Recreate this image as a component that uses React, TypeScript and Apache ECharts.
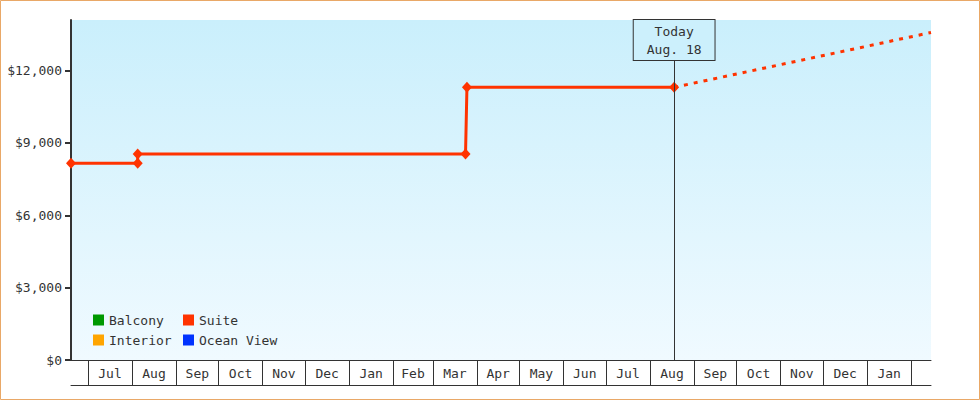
import React, { useEffect, useRef } from 'react';
import * as echarts from 'echarts';

const FONT = '"DejaVu Sans Mono", "Liberation Mono", monospace';
const TEXT = '#333333';

// x axis: month boxes (labels) and month boundaries (separators)
const monthLabels = ['Jul', 'Aug', 'Sep', 'Oct', 'Nov', 'Dec', 'Jan', 'Feb', 'Mar', 'Apr', 'May', 'Jun', 'Jul', 'Aug', 'Sep', 'Oct', 'Nov', 'Dec', 'Jan'];
const monthStarts = [
  '2017-07-01', '2017-08-01', '2017-09-01', '2017-10-01', '2017-11-01', '2017-12-01',
  '2018-01-01', '2018-02-01', '2018-03-01', '2018-04-01', '2018-05-01', '2018-06-01',
  '2018-07-01', '2018-08-01', '2018-09-01', '2018-10-01', '2018-11-01', '2018-12-01',
  '2019-01-01', '2019-02-01',
];
const axisStart = '2017-06-19';
const axisEnd = '2019-02-15';

// y axis
const yTickValues = [0, 3000, 6000, 9000, 12000];
const yMax = 14100;

// Suite price history (step changes)
const suiteDates = ['2017-06-19', '2017-08-05', '2017-08-05', '2018-03-24', '2018-03-25', '2018-08-18'];
const suitePrices = [8160, 8160, 8540, 8540, 11310, 11310];

// Suite projection (dashed)
const projectionDates = ['2018-08-18', '2019-02-15'];
const projectionPrices = [11310, 13580];

const todayDate = '2018-08-18';
const todayLabel = ['Today', 'Aug. 18'];

// legend
const seriesNames = ['Balcony', 'Suite', 'Interior', 'Ocean View'];
const seriesColors = ['#009900', '#ff3300', '#ffa500', '#0033ff'];
const legendColumnA = ['Balcony', 'Interior'];
const legendColumnB = ['Suite', 'Ocean View'];

const toTime = (s: string) => {
  const [y, m, d] = s.split('-').map(Number);
  return new Date(y, m - 1, d).getTime();
};

const colorOf = (name: string) => seriesColors[seriesNames.indexOf(name)];

export default function App() {
  const ref = useRef<HTMLDivElement>(null);

  useEffect(() => {
    document.body.style.margin = '0';
    const el = ref.current!;
    const chart = echarts.init(el, null, { renderer: 'svg' });

    const startTimes = monthStarts.map(toTime);
    const midTimes = monthLabels.map((_, i) => (startTimes[i] + startTimes[i + 1]) / 2);
    const labelFor = (v: number) => {
      for (let i = 0; i < monthLabels.length; i++) {
        if (v >= startTimes[i] && v < startTimes[i + 1]) return monthLabels[i];
      }
      return '';
    };

    const textStyle = { fontFamily: FONT, fontSize: 13, color: TEXT };

    const legendBase = {
      orient: 'vertical',
      top: 312,
      itemWidth: 11,
      itemHeight: 11,
      itemGap: 4,
      padding: 0,
      icon: 'rect',
      selectedMode: false,
      textStyle: { ...textStyle, lineHeight: 16 },
    };

    const emptySeries = ['Balcony', 'Interior', 'Ocean View'].map((name) => ({
      name,
      type: 'line',
      data: [],
      itemStyle: { color: colorOf(name) },
      lineStyle: { color: colorOf(name) },
    }));

    const xMin = toTime(axisStart);
    const xMax = toTime(axisEnd);

    const option: any = {
      animation: false,
      backgroundColor: '#ffffff',
      textStyle: { fontFamily: FONT },
      grid: {
        left: 71,
        right: 49,
        top: 20,
        bottom: 40,
        show: true,
        borderWidth: 0,
        backgroundColor: new echarts.graphic.LinearGradient(0, 0, 0, 1, [
          { offset: 0, color: '#caeffc' },
          { offset: 1, color: '#f0faff' },
        ]),
      },
      graphic: [
        {
          type: 'rect',
          shape: { x: 0.5, y: 0.5, width: 979, height: 399 },
          style: { fill: 'none', stroke: '#e9a867', lineWidth: 1 },
          silent: true,
          z: 100,
        },
      ],
      legend: [
        { ...legendBase, left: 93, data: legendColumnA },
        { ...legendBase, left: 183, data: legendColumnB },
      ],
      xAxis: [
        {
          type: 'value',
          min: xMin,
          max: xMax,
          axisLine: { show: true, lineStyle: { color: TEXT, width: 1 } },
          axisTick: {
            show: true,
            customValues: startTimes,
            length: 25,
            lineStyle: { color: TEXT, width: 1 },
          },
          axisLabel: {
            customValues: midTimes,
            formatter: (v: number) => labelFor(v),
            margin: 7,
            ...textStyle,
          },
          splitLine: { show: false },
        },
        {
          type: 'value',
          position: 'bottom',
          offset: 25,
          min: xMin,
          max: xMax,
          axisLine: { show: true, lineStyle: { color: TEXT, width: 1 } },
          axisTick: { show: false },
          axisLabel: { show: false },
          splitLine: { show: false },
        },
      ],
      yAxis: {
        type: 'value',
        min: 0,
        max: yMax,
        interval: 3000,
        axisLine: { show: true, lineStyle: { color: TEXT, width: 2 } },
        axisTick: {
          show: true,
          customValues: yTickValues,
          length: 6,
          lineStyle: { color: TEXT, width: 2 },
        },
        axisLabel: {
          customValues: yTickValues,
          formatter: (v: number) => '$' + v.toLocaleString('en-US'),
          margin: 9,
          ...textStyle,
        },
        splitLine: { show: false },
      },
      series: [
        emptySeries[0],
        {
          name: 'Suite',
          type: 'line',
          z: 4,
          data: suiteDates.map((d, i) => [toTime(d), suitePrices[i]]),
          symbol: 'diamond',
          symbolSize: [10, 11],
          showAllSymbol: true,
          itemStyle: { color: colorOf('Suite') },
          lineStyle: { color: colorOf('Suite'), width: 3 },
          emphasis: { disabled: true },
        },
        {
          name: 'Suite',
          type: 'line',
          z: 3,
          data: projectionDates.map((d, i) => [toTime(d), projectionPrices[i]]),
          showSymbol: false,
          symbol: 'none',
          itemStyle: { color: colorOf('Suite') },
          lineStyle: { color: colorOf('Suite'), width: 3, type: [4, 6] },
          emphasis: { disabled: true },
          markLine: {
            silent: true,
            symbol: ['none', 'none'],
            lineStyle: { color: TEXT, width: 1, type: 'solid' },
            emphasis: { disabled: true },
            label: {
              show: true,
              position: 'end',
              distance: -40,
              formatter: todayLabel.join('\n'),
              fontFamily: FONT,
              fontSize: 13,
              lineHeight: 18,
              color: TEXT,
              align: 'center',
              backgroundColor: '#ccf0fc',
              borderColor: TEXT,
              borderWidth: 1,
              padding: [2, 13],
            },
            data: [{ xAxis: toTime(todayDate) }],
          },
        },
        emptySeries[1],
        emptySeries[2],
      ],
    };

    chart.setOption(option);
    return () => chart.dispose();
  }, []);

  return <div ref={ref} style={{ position: 'absolute', left: 0, top: 0, width: 980, height: 400 }} />;
}
